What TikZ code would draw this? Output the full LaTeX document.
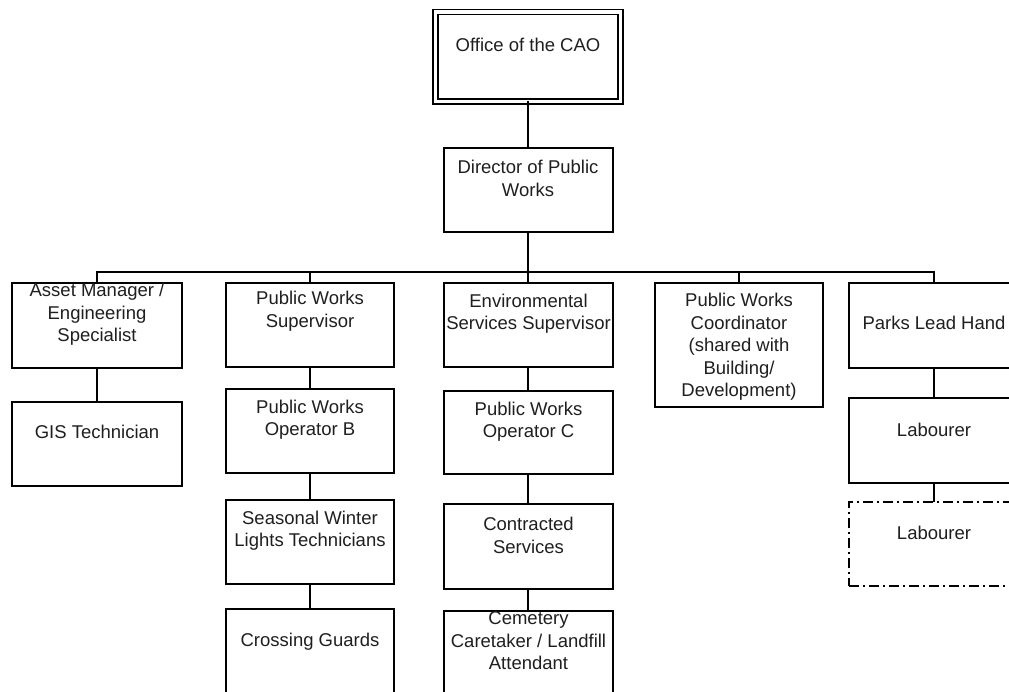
\documentclass[tikz,border=0pt]{standalone}
\usepackage{fontspec}
\setmainfont{Liberation Sans}
\begin{document}
\begin{tikzpicture}[x=1pt,y=-1pt,
  box/.style={draw=black, line width=2pt, rectangle, inner sep=0pt, outer sep=0pt},
  dashbox/.style={box, dash pattern=on 10pt off 4pt on 2pt off 4pt},
  txt/.style={align=center, inner sep=0pt, text=black!88,
    font=\fontsize{18.5}{22.5}\selectfont},
  conn/.style={draw=black, line width=2pt}]
\clip (0,0) rectangle (1009,692);
\fill[white] (0,0) rectangle (1009,692);

% top of the chart
\node[box, line width=1.8pt, double, double distance=3.2pt, minimum width=185pt, minimum height=89.5pt] (cao) at (528,56.75) {};
\node[txt] (caoT) at (528,45) {Office of the CAO};
\node[box, minimum width=169pt, minimum height=84pt] (dir) at (528,190) {};
\node[txt] (dirT) at (528,178.5) {Director of Public\\Works};

% first level
\node[box, minimum width=170pt, minimum height=85pt] (asset) at (97,325.5) {};
\node[txt] (assetT) at (97,314.5) {Asset Manager /\\Engineering\\Specialist};
\node[box, minimum width=168pt, minimum height=84pt] (sup) at (310,325) {};
\node[txt] (supT) at (310,311) {Public Works\\Supervisor};
\node[box, minimum width=169pt, minimum height=84pt] (env) at (528,325) {};
\node[txt] (envT) at (528.5,313.5) {Environmental\\Services Supervisor};
\node[box, minimum width=168pt, minimum height=124pt] (coord) at (739,345) {};
\node[txt] (coordT) at (739,347) {Public Works\\Coordinator\\(shared with\\Building/\\Development)};
\node[box, minimum width=170pt, minimum height=85pt] (parks) at (934,325.5) {};
\node[txt] (parksT) at (934,323) {Parks Lead Hand};

% second level
\node[box, minimum width=170pt, minimum height=84pt] (gis) at (97,444) {};
\node[txt] (gisT) at (97,432) {GIS Technician};
\node[box, minimum width=168pt, minimum height=84pt] (opb) at (310,431) {};
\node[txt] (opbT) at (310,419.5) {Public Works\\Operator B};
\node[box, minimum width=169pt, minimum height=83pt] (opc) at (528,432.5) {};
\node[txt] (opcT) at (528.5,421.5) {Public Works\\Operator C};
\node[box, minimum width=170pt, minimum height=85pt] (lab) at (934,440.5) {};
\node[txt] (labT) at (934,430) {Labourer};

% third level
\node[box, minimum width=168pt, minimum height=84pt] (seas) at (310,542) {};
\node[txt] (seasT) at (310,530.5) {Seasonal Winter\\Lights Technicians};
\node[box, minimum width=169pt, minimum height=85pt] (contr) at (528,546.5) {};
\node[txt] (contrT) at (528.5,535.5) {Contracted\\Services};
\node[dashbox, minimum width=170pt, minimum height=84pt] (lab2) at (934,544) {};
\node[txt] (lab2T) at (934,533) {Labourer};

% fourth level
\node[box, minimum width=168pt, minimum height=84pt] (cross) at (310,651) {};
\node[txt] (crossT) at (310,642) {Crossing Guards};
\node[box, minimum width=169pt, minimum height=84pt] (cem) at (528,653) {};
\node[txt] (cemT) at (528.5,641) {Cemetery\\Caretaker / Landfill\\Attendant};

% reporting lines
\coordinate (bus) at (528,272);
\draw[conn] (cao.south) -- (dir.north);
\draw[conn] (dir.south) -- (bus);
\draw[conn] (asset.north) |- (bus) -| (parks.north);
\draw[conn] (sup.north) -- (sup.north |- bus);
\draw[conn] (env.north) -- (bus);
\draw[conn] (coord.north) -- (coord.north |- bus);

\draw[conn] (asset.south) -- (gis.north);
\draw[conn] (sup.south) -- (opb.north);
\draw[conn] (opb.south) -- (seas.north);
\draw[conn] (seas.south) -- (cross.north);
\draw[conn] (env.south) -- (opc.north);
\draw[conn] (opc.south) -- (contr.north);
\draw[conn] (contr.south) -- (cem.north);
\draw[conn] (parks.south) -- (lab.north);
\draw[conn] (lab.south) -- (lab2.north);
\end{tikzpicture}
\end{document}
